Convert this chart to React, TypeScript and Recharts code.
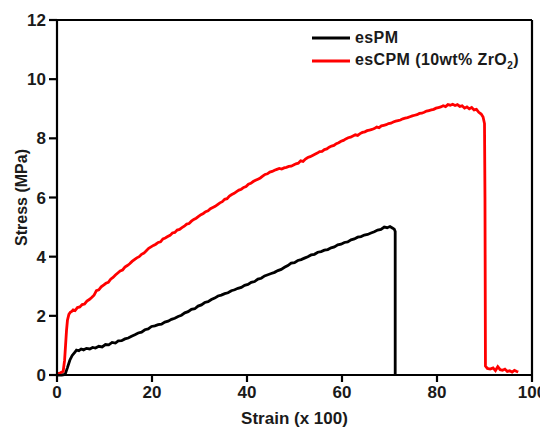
import React from "react";
import { LineChart, Line, XAxis, YAxis, Legend, ReferenceLine } from "recharts";

const xTicks = [0, 20, 40, 60, 80, 100];
const yTicks = [0, 2, 4, 6, 8, 10, 12];
const seriesNames = ["esPM", "esCPM (10wt% ZrO", "2", ")"];

const esPMStrain = [
  0, 1.0, 1.7, 2.2, 2.7, 3.2, 3.7, 4.1, 4.6, 5.1, 5.6, 6.2, 6.9, 7.5, 8.1, 8.8, 9.5, 10.2, 10.9, 11.6,
  12.3, 12.9, 13.6, 14.3, 15.0, 15.7, 16.4, 17.1, 17.8, 18.5, 19.2, 19.9, 20.6, 21.3, 22.0, 22.7, 23.4,
  24.1, 24.8, 25.5, 26.2, 26.9, 27.6, 28.3, 29.0, 29.7, 30.4, 31.1, 31.8, 32.5, 33.2, 33.9, 34.6, 35.3,
  36.0, 36.7, 37.4, 38.1, 38.8, 39.5, 40.2, 40.9, 41.6, 42.3, 43.0, 43.7, 44.4, 45.1, 45.8, 46.5, 47.2,
  47.9, 48.6, 49.3, 50.0, 50.7, 51.4, 52.1, 52.8, 53.5, 54.2, 54.9, 55.6, 56.3, 57.0, 57.7, 58.4, 59.1,
  59.8, 60.5, 61.2, 61.9, 62.6, 63.3, 64.0, 64.7, 65.4, 66.1, 66.8, 67.5, 68.2, 68.9, 69.5, 70.1, 70.6,
  71.0, 71.2, 71.2,
];
const esPMStress = [
  0, 0.0, 0.02, 0.25, 0.5, 0.66, 0.76, 0.84, 0.82, 0.88, 0.85, 0.9, 0.88, 0.93, 0.91, 0.97, 0.95, 1.03,
  1.02, 1.1, 1.08, 1.15, 1.16, 1.22, 1.25, 1.31, 1.36, 1.42, 1.45, 1.53, 1.56, 1.64, 1.66, 1.7, 1.72,
  1.79, 1.82, 1.88, 1.92, 1.98, 2.02, 2.1, 2.14, 2.22, 2.24, 2.33, 2.37, 2.45, 2.48, 2.55, 2.6, 2.67,
  2.7, 2.75, 2.78, 2.85, 2.88, 2.93, 2.96, 3.03, 3.06, 3.13, 3.16, 3.24, 3.27, 3.35, 3.39, 3.43, 3.47,
  3.53, 3.57, 3.64, 3.7, 3.78, 3.8, 3.87, 3.9, 3.95, 4.0, 4.06, 4.08, 4.15, 4.17, 4.22, 4.24, 4.3, 4.33,
  4.4, 4.42, 4.48, 4.5, 4.57, 4.6, 4.66, 4.68, 4.73, 4.75, 4.8, 4.84, 4.9, 4.92, 5.0, 4.98, 5.02, 4.97,
  4.93, 4.85, 0,
];

const esCPMStrain = [
  0, 0.6, 1.0, 1.3, 1.6, 1.8, 2.0, 2.2, 2.5, 2.8, 3.1, 3.4, 3.8, 4.3, 4.8, 5.3, 5.8, 6.3, 6.8, 7.3, 7.8, 8.3,
  8.8, 9.3, 9.8, 10.3, 10.8, 11.3, 11.8, 12.3, 12.8, 13.3, 13.8, 14.3, 14.8, 15.3, 15.8, 16.3, 16.8, 17.3,
  17.8, 18.3, 18.8, 19.3, 19.8, 20.3, 20.8, 21.3, 21.8, 22.3, 22.8, 23.3, 23.8, 24.3, 24.8, 25.3, 25.8,
  26.3, 26.8, 27.3, 27.8, 28.3, 28.8, 29.3, 29.8, 30.3, 30.8, 31.3, 31.8, 32.3, 32.8, 33.3, 33.8, 34.3,
  34.8, 35.3, 35.8, 36.3, 36.8, 37.3, 37.8, 38.3, 38.8, 39.3, 39.8, 40.3, 40.8, 41.3, 41.8, 42.3, 42.8,
  43.3, 43.8, 44.3, 44.8, 45.3, 45.8, 46.3, 46.8, 47.3, 47.8, 48.3, 48.8, 49.3, 49.8, 50.3, 50.8, 51.3,
  51.8, 52.3, 52.8, 53.3, 53.8, 54.3, 54.8, 55.3, 55.8, 56.3, 56.8, 57.3, 57.8, 58.3, 58.8, 59.3, 59.8,
  60.3, 60.8, 61.3, 61.8, 62.3, 62.8, 63.3, 63.8, 64.3, 64.8, 65.3, 65.8, 66.3, 66.8, 67.3, 67.8, 68.3,
  68.8, 69.3, 69.8, 70.3, 70.8, 71.3, 71.8, 72.3, 72.8, 73.3, 73.8, 74.3, 74.8, 75.3, 75.8, 76.3, 76.8,
  77.3, 77.8, 78.3, 78.8, 79.3, 79.8, 80.3, 80.8, 81.3, 81.8, 82.3, 82.8, 83.3, 83.8, 84.3, 84.8, 85.3,
  85.8, 86.3, 86.8, 87.3, 87.8, 88.3, 88.8, 89.3, 89.7, 90.0, 90.1, 90.2, 90.6, 91.2, 91.8, 92.3, 92.8,
  93.3, 93.8, 94.3, 94.8, 95.3, 95.8, 96.3, 96.8, 97.1,
];
const esCPMStress = [
  0.05, 0.06, 0.1, 0.12, 0.5, 1.0, 1.5, 1.85, 2.05, 2.12, 2.15, 2.2, 2.18, 2.28, 2.3, 2.38, 2.4, 2.5, 2.55,
  2.62, 2.7, 2.85, 2.88, 2.98, 3.04, 3.1, 3.13, 3.24, 3.3, 3.38, 3.45, 3.52, 3.55, 3.65, 3.7, 3.76, 3.84,
  3.9, 3.96, 4.0, 4.08, 4.12, 4.2, 4.28, 4.33, 4.38, 4.42, 4.48, 4.5, 4.6, 4.63, 4.68, 4.72, 4.8, 4.82,
  4.9, 4.92, 4.98, 5.03, 5.1, 5.12, 5.2, 5.26, 5.3, 5.36, 5.42, 5.46, 5.52, 5.55, 5.62, 5.66, 5.7, 5.76,
  5.82, 5.86, 5.94, 5.96, 6.05, 6.1, 6.14, 6.2, 6.25, 6.28, 6.34, 6.37, 6.45, 6.48, 6.54, 6.58, 6.62,
  6.66, 6.72, 6.78, 6.8, 6.86, 6.88, 6.92, 6.95, 6.98, 6.96, 7.0, 7.02, 7.05, 7.06, 7.1, 7.14, 7.16,
  7.24, 7.22, 7.3, 7.35, 7.38, 7.42, 7.46, 7.5, 7.55, 7.56, 7.62, 7.64, 7.7, 7.74, 7.76, 7.82, 7.85, 7.9,
  7.93, 7.98, 8.02, 8.04, 8.08, 8.12, 8.1, 8.16, 8.2, 8.22, 8.26, 8.28, 8.3, 8.33, 8.38, 8.36, 8.42,
  8.44, 8.46, 8.5, 8.51, 8.55, 8.58, 8.6, 8.62, 8.66, 8.68, 8.7, 8.73, 8.76, 8.78, 8.8, 8.84, 8.85, 8.88,
  8.92, 8.94, 8.96, 8.98, 9.02, 9.04, 9.06, 9.1, 9.07, 9.14, 9.12, 9.15, 9.11, 9.14, 9.08, 9.1, 9.02,
  9.06, 9.0, 9.04, 8.96, 8.98, 8.88, 8.82, 8.72, 8.5, 6.0, 0.3, 0.22, 0.2, 0.24, 0.15, 0.28, 0.18, 0.16,
  0.2, 0.12, 0.14, 0.1, 0.16, 0.12, 0.1,
];

const esPMData = esPMStrain.map((x, i) => ({ x, y: esPMStress[i] }));
const esCPMData = esCPMStrain.map((x, i) => ({ x, y: esCPMStress[i] }));

const FONT = '"Liberation Sans", Arial, sans-serif';
const tickStyle = { fill: "#1a1a1a", fontSize: 17, fontWeight: 700, fontFamily: FONT };

const LegendContent = () => {
  const rows = [
    { color: "#000000", label: <span>{seriesNames[0]}</span> },
    {
      color: "#ff0000",
      label: (
        <span>
          {seriesNames[1]}
          <sub style={{ fontSize: 10, verticalAlign: "-4px" }}>{seriesNames[2]}</sub>
          {seriesNames[3]}
        </span>
      ),
    },
  ];
  return (
    <div style={{ fontFamily: FONT, fontWeight: 700, fontSize: 16, color: "#1a1a1a", letterSpacing: 0.4 }}>
      {rows.map((r, i) => (
        <div key={i} style={{ display: "flex", alignItems: "center", height: 23, whiteSpace: "nowrap" }}>
          <svg width={38} height={4} style={{ marginRight: 5 }}>
            <line x1={0} y1={2} x2={38} y2={2} stroke={r.color} strokeWidth={2.8} />
          </svg>
          {r.label}
        </div>
      ))}
    </div>
  );
};

const YTitle = (props: any) => {
  const vb = props.viewBox || {};
  const cx = vb.x + 13;
  const cy = vb.y + vb.height / 2;
  return (
    <text
      x={cx}
      y={cy}
      transform={`rotate(-90, ${cx}, ${cy})`}
      textAnchor="middle"
      dominantBaseline="central"
      style={{ fill: "#1a1a1a", fontSize: 16, fontWeight: 700, fontFamily: FONT }}
    >
      Stress (MPa)
    </text>
  );
};

export default function App() {
  return (
    <LineChart width={540} height={419} margin={{ top: 12, right: 16, bottom: 3, left: 0 }}>
      <XAxis
        dataKey="x"
        type="number"
        domain={[0, 100]}
        ticks={xTicks}
        interval={0}
        allowDataOverflow
        height={49}
        tickSize={7}
        tickMargin={4}
        tick={tickStyle}
        axisLine={{ stroke: "#000", strokeWidth: 2.2 }}
        tickLine={{ stroke: "#000", strokeWidth: 2.2 }}
        label={{
          value: "Strain (x 100)",
          position: "insideBottom",
          offset: 0,
          style: { fill: "#1a1a1a", fontSize: 17, fontWeight: 700, fontFamily: FONT },
        }}
      />
      <YAxis
        type="number"
        domain={[0, 12]}
        ticks={yTicks}
        interval={0}
        width={49}
        tickSize={8}
        tickMargin={3}
        tick={tickStyle}
        axisLine={{ stroke: "#000", strokeWidth: 2.2 }}
        tickLine={{ stroke: "#000", strokeWidth: 2.2 }}
        label={<YTitle />}
      />
      <ReferenceLine y={12} stroke="#000" strokeWidth={2.2} />
      <ReferenceLine x={100} stroke="#000" strokeWidth={2.2} />
      <Legend
        content={<LegendContent />}
        layout="vertical"
        verticalAlign="middle"
        align="center"
        wrapperStyle={{ left: 304, top: 18, width: 236 }}
      />
      <Line
        data={esPMData}
        dataKey="y"
        name="esPM"
        type="linear"
        stroke="#000000"
        strokeWidth={2.8}
        dot={false}
        isAnimationActive={false}
      />
      <Line
        data={esCPMData}
        dataKey="y"
        name="esCPM (10wt% ZrO2)"
        type="linear"
        stroke="#ff0000"
        strokeWidth={2.8}
        dot={false}
        isAnimationActive={false}
      />
    </LineChart>
  );
}
